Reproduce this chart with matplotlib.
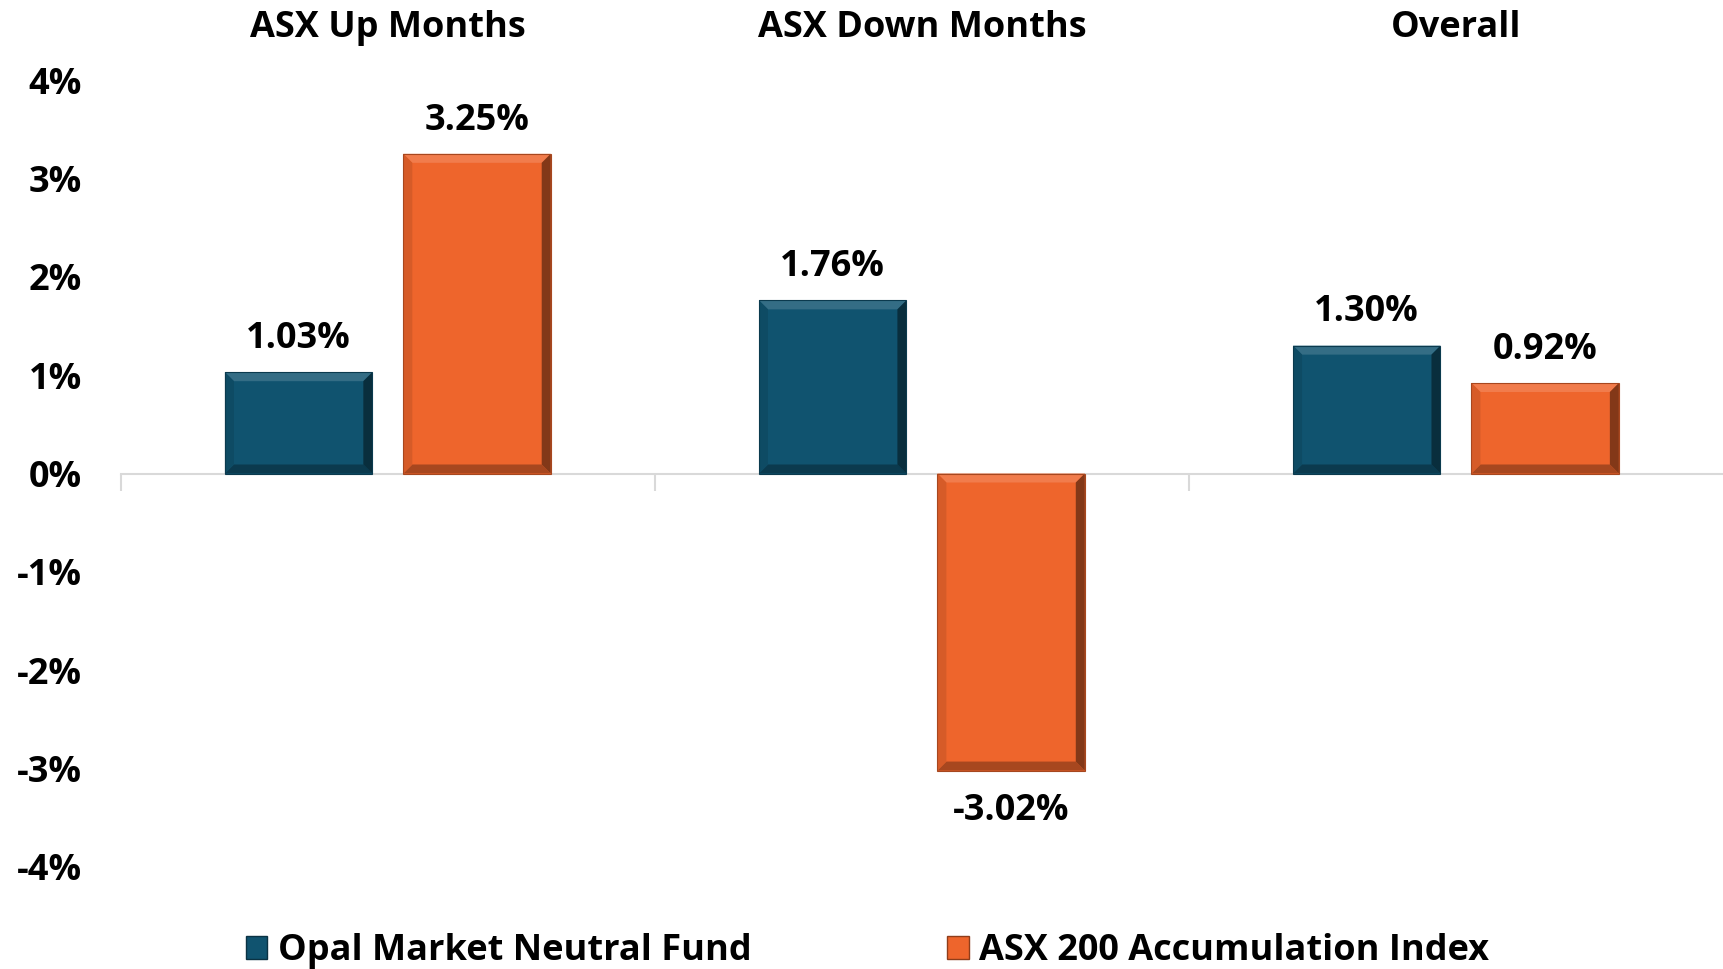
import numpy as np
import matplotlib
matplotlib.use("Agg")
import matplotlib.pyplot as plt
import matplotlib.transforms as mtransforms
from matplotlib.patches import Patch, Polygon

# data
categories = ["ASX Up Months", "ASX Down Months", "Overall"]
series_names = ["Opal Market Neutral Fund", "ASX 200 Accumulation Index"]
fund = [1.03, 1.76, 1.30]
index = [3.25, -3.02, 0.92]
y_ticks = [-4, -3, -2, -1, 0, 1, 2, 3, 4]

BLUE = "#10536F"
ORANGE = "#EE652C"
FS = 26

plt.rcParams["font.family"] = ["Open Sans", "DejaVu Sans"]
plt.rcParams["font.weight"] = "bold"

fig = plt.figure(figsize=(17.23, 9.69), dpi=100)
ax = fig.add_axes([0.0701, 0.1053, 0.9299, 0.8121])

x = np.arange(len(categories))
w = 0.276
off = 0.167

bars_a = ax.bar(x - off, fund, w, color=BLUE, zorder=3)
bars_b = ax.bar(x + off, index, w, color=ORANGE, zorder=3)

ax.set_xlim(-0.5, 2.5)
ax.set_ylim(-4, 4)


def shade(c, f):
    c = np.array(matplotlib.colors.to_rgb(c))
    if f > 0:
        return tuple(c + (1 - c) * f)
    return tuple(c * (1 + f))


def bevel(bar, color):
    # fake excel-style bevel: a border of shaded trapezoids
    x0, y0 = bar.get_x(), bar.get_y()
    x1, y1 = x0 + bar.get_width(), y0 + bar.get_height()
    ylo, yhi = min(y0, y1), max(y0, y1)
    px = ax.transData.transform([(0, 0), (1, 1)])
    sx = 9 / (px[1, 0] - px[0, 0])
    sy = 9 / (px[1, 1] - px[0, 1])
    faces = [
        ([(x0, yhi), (x1, yhi), (x1 - sx, yhi - sy), (x0 + sx, yhi - sy)], shade(color, 0.15)),
        ([(x0, ylo), (x1, ylo), (x1 - sx, ylo + sy), (x0 + sx, ylo + sy)], shade(color, -0.3)),
        ([(x0, ylo), (x0, yhi), (x0 + sx, yhi - sy), (x0 + sx, ylo + sy)], shade(color, -0.1)),
        ([(x1, ylo), (x1, yhi), (x1 - sx, yhi - sy), (x1 - sx, ylo + sy)], shade(color, -0.45)),
    ]
    for pts, fc in faces:
        ax.add_patch(Polygon(pts, closed=True, facecolor=fc, edgecolor="none", zorder=4))
    ax.add_patch(plt.Rectangle((x0, ylo), x1 - x0, yhi - ylo, fill=False,
                               edgecolor=shade(color, -0.3), lw=0.8, zorder=5))


for b in bars_a:
    bevel(b, BLUE)
for b in bars_b:
    bevel(b, ORANGE)

# value labels
for bars, vals in [(bars_a, fund), (bars_b, index)]:
    for b, v in zip(bars, vals):
        cx = b.get_x() + b.get_width() / 2
        if v >= 0:
            ax.annotate(f"{v:.2f}%", (cx, v), xytext=(0, 11), textcoords="offset points",
                        ha="center", va="bottom", fontsize=FS, fontweight="bold")
        else:
            ax.annotate(f"{v:.2f}%", (cx, v), xytext=(0, -16), textcoords="offset points",
                        ha="center", va="top", fontsize=FS, fontweight="bold")

# category labels on top
trans = mtransforms.blended_transform_factory(ax.transData, fig.transFigure)
for i, c in enumerate(categories):
    ax.text(i, 0.9707, c, transform=trans, ha="center", va="center",
            fontsize=FS, fontweight="bold")

# axes styling
for s in ["top", "right", "left"]:
    ax.spines[s].set_visible(False)
ax.spines["bottom"].set_position(("data", 0))
ax.spines["bottom"].set_color("#D9D9D9")
ax.spines["bottom"].set_linewidth(1.5)
ax.spines["bottom"].set_zorder(2)
ax.set_xticks([-0.5, 0.5, 1.5])
ax.set_xticklabels([])
ax.tick_params(axis="x", direction="out", length=12, width=1.5, color="#D9D9D9")
ax.set_yticks(y_ticks)
ax.set_yticklabels([f"{t}%" for t in y_ticks])
ax.tick_params(axis="y", length=0, pad=28, labelsize=FS)
for lab in ax.get_yticklabels():
    lab.set_fontweight("bold")

handles = [Patch(facecolor=BLUE, edgecolor=shade(BLUE, -0.4)),
           Patch(facecolor=ORANGE, edgecolor=shade(ORANGE, -0.4))]
fig.legend(handles, series_names, loc="center", bbox_to_anchor=(0.5035, 0.0183), ncol=2,
           frameon=False, prop={"size": FS, "weight": "bold"},
           handlelength=0.6, handleheight=0.6, handletextpad=0.3, columnspacing=5.4)

fig.savefig("out.png", dpi=100)
